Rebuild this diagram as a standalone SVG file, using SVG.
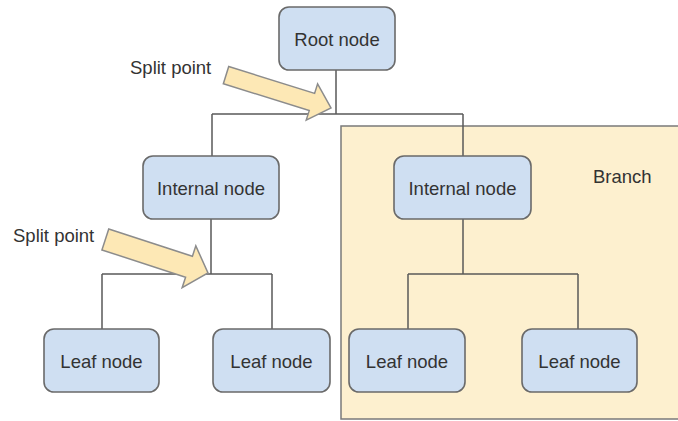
<svg xmlns="http://www.w3.org/2000/svg" width="678" height="421" viewBox="0 0 678 421">
  <style>
    .node rect { fill: #cfdff2; stroke: #6a6a6a; stroke-width: 1.6; }
    .label { font-family: "Liberation Sans", Arial, sans-serif; font-size: 18.5px; fill: #333333; }
    .node text { text-anchor: middle; }
    .wire { fill: none; stroke: #5a5a5a; stroke-width: 1.5; }
    .pointer { fill: #fde8b5; stroke: #8c8c8c; stroke-width: 1.5; stroke-linejoin: miter; }
  </style>

  <rect width="678" height="421" fill="#ffffff"/>

  <!-- highlighted subtree -->
  <g id="branch">
    <rect x="341" y="126" width="345" height="293" fill="#fdf0cf" stroke="#7a7a7a" stroke-width="1.5"/>
    <text class="label" x="593" y="183">Branch</text>
  </g>

  <g id="connectors" class="wire">
    <path d="M336,70 V114 M212,114 H463 M212,114 V156 M463,114 V156"/>
    <path d="M211,219 V274 M102,274 H272 M102,274 V329 M272,274 V329"/>
    <path d="M463,219 V274 M408,274 H578 M408,274 V329 M578,274 V329"/>
  </g>

  <g id="root" class="node">
    <rect x="279" y="7" width="116" height="63" rx="10"/>
    <text class="label" x="337" y="46">Root node</text>
  </g>
  <g id="internal-left" class="node">
    <rect x="143" y="156" width="136" height="63" rx="10"/>
    <text class="label" x="211" y="195">Internal node</text>
  </g>
  <g id="internal-right" class="node">
    <rect x="394" y="156" width="137" height="63" rx="10"/>
    <text class="label" x="462.5" y="195">Internal node</text>
  </g>
  <g id="leaf-1" class="node">
    <rect x="44" y="329" width="115" height="63" rx="10"/>
    <text class="label" x="101.5" y="368">Leaf node</text>
  </g>
  <g id="leaf-2" class="node">
    <rect x="213" y="329" width="117" height="63" rx="10"/>
    <text class="label" x="271.5" y="368">Leaf node</text>
  </g>
  <g id="leaf-3" class="node">
    <rect x="349" y="329" width="116" height="63" rx="10"/>
    <text class="label" x="407" y="368">Leaf node</text>
  </g>
  <g id="leaf-4" class="node">
    <rect x="522" y="329" width="115" height="63" rx="10"/>
    <text class="label" x="579.5" y="368">Leaf node</text>
  </g>

  <!-- split point callouts: block arrows with tip at the origin -->
  <g id="split-1">
    <polygon class="pointer" transform="translate(331,108) rotate(17.4)"
             points="-110,-9 -20,-9 -20,-19 0,0 -20,19 -20,9 -110,9"/>
    <text class="label" x="130" y="74">Split point</text>
  </g>
  <g id="split-2">
    <polygon class="pointer" transform="translate(208,273) rotate(18.1)"
             points="-108,-11 -20,-11 -20,-22 0,0 -20,22 -20,11 -108,11"/>
    <text class="label" x="13" y="242">Split point</text>
  </g>
</svg>
